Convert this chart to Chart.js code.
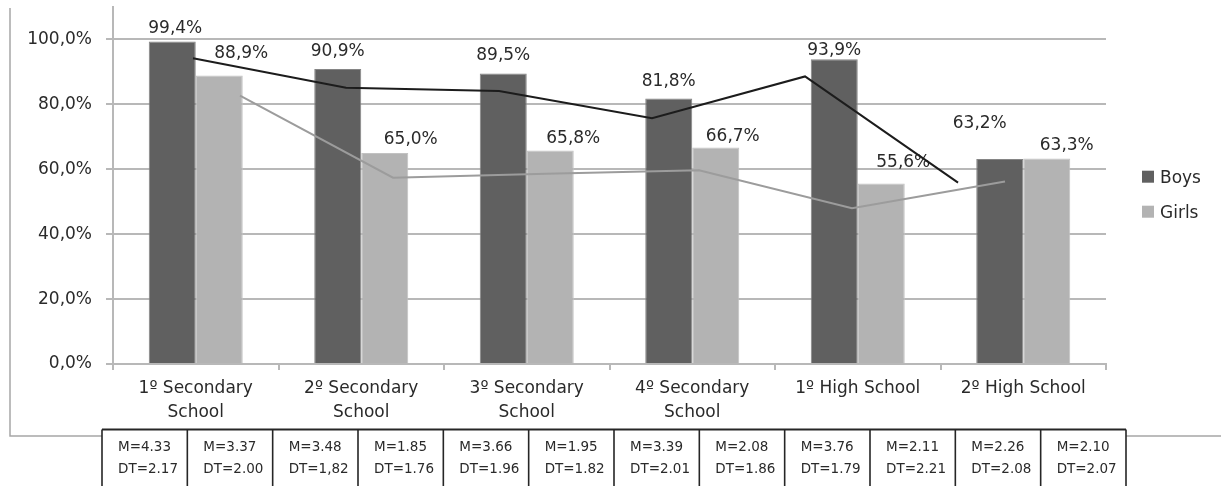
<!DOCTYPE html>
<html>
<head>
<meta charset="utf-8">
<script src="https://cdn.jsdelivr.net/npm/chart.js@4.4.1/dist/chart.umd.min.js"></script>
<style>
  html, body { margin: 0; padding: 0; background: #ffffff; }
  #wrap { width: 1221px; height: 486px; position: relative; }
  #wrap canvas { position: absolute; left: 0; top: 0; }
  #trend { pointer-events: none; }
</style>
</head>
<body>
<div id="wrap">
  <canvas id="bars" width="1221" height="486"></canvas>
  <canvas id="trend" width="1221" height="486"></canvas>
</div>
<script>
// ---- data ----
const categories = [
  ["1º Secondary", "School"],
  ["2º Secondary", "School"],
  ["3º Secondary", "School"],
  ["4º Secondary", "School"],
  "1º High School",
  "2º High School"
];
const seriesNames = ["Boys", "Girls"];
const boysPct  = [99.4, 90.9, 89.5, 81.8, 93.9, 63.2];
const girlsPct = [88.9, 65.0, 65.8, 66.7, 55.6, 63.3];
const boysTrend  = [94.2, 85.1, 84.1, 75.7, 88.6, 55.9];
const girlsTrend = [82.7, 57.4, 58.6, 59.7, 48.0, 56.2];
const yTickValues = [0, 20, 40, 60, 80, 100];
const boysM   = ["4.33", "3.48", "3.66", "3.39", "3.76", "2.26"];
const boysDT  = ["2.17", "1,82", "1.96", "2.01", "1.79", "2.08"];
const girlsM  = ["3.37", "1.85", "1.95", "2.08", "2.11", "2.10"];
const girlsDT = ["2.00", "1.76", "1.82", "1.86", "2.21", "2.07"];

// ---- look ----
const FONT = "'DejaVu Sans', sans-serif";
const TEXT = "#2a2a2a";
const GRID = "#b8b8b8";
const BOYS_COLOR = "#606060";
const GIRLS_COLOR = "#b3b3b3";
const Y_MAX = 110;

// plot-area box shared by both canvases (left, right, top, bottom paddings)
const PAD = { left: 113, right: 115, top: 7, bottom: 122 };

// value-label placement: [horizontal shift, rise of text centre above bar top]
const labelPlacement = [
  [[3, 15], [0, 19], [0, 19.5], [0, 19], [0, 10], [-20, 37]],
  [[22, 23.5], [26, 15], [23, 14], [17, 12.5], [22, 23], [20, 15]]
];

// trend-line axis range, and where the girls' trend sits relative to the boys'
const TREND_MIN = -0.523, TREND_MAX = 5.967, GIRLS_TREND_SHIFT = 0.307;

const fmtPct = v => v.toFixed(1).replace(".", ",") + "%";

// frame, value labels, legend and the statistics table under the axis
const decorations = {
  id: "decorations",
  afterDatasetsDraw(chart) {
    const ctx = chart.ctx;
    ctx.save();
    ctx.font = "17px " + FONT;
    ctx.fillStyle = TEXT;
    ctx.textAlign = "center";
    ctx.textBaseline = "alphabetic";
    chart.data.datasets.forEach((ds, di) => {
      chart.getDatasetMeta(di).data.forEach((bar, i) => {
        const [dx, rise] = labelPlacement[di][i];
        ctx.fillText(fmtPct(ds.data[i]), bar.x + dx, bar.y - rise + 6.2);
      });
    });
    ctx.restore();
  },
  afterDraw(chart) {
    const ctx = chart.ctx;
    const area = chart.chartArea;
    ctx.save();

    // outer frame pieces
    const tblLeft = area.left - 11;
    const tblRight = area.right + 20;
    const tblTop = 429.5;
    ctx.strokeStyle = "#a6a6a6";
    ctx.lineWidth = 1.5;
    ctx.beginPath();
    ctx.moveTo(10, 8);
    ctx.lineTo(10, 436);
    ctx.lineTo(tblLeft, 436);
    ctx.moveTo(tblRight, 436);
    ctx.lineTo(chart.width, 436);
    ctx.stroke();

    // legend
    ctx.font = "17px " + FONT;
    ctx.textAlign = "left";
    ctx.textBaseline = "alphabetic";
    const legendX = area.right + 36;
    const legendY = [176.7, 211.7];
    chart.data.datasets.forEach((ds, di) => {
      ctx.fillStyle = ds.backgroundColor;
      ctx.fillRect(legendX, legendY[di] - 6, 12, 12);
      ctx.fillStyle = TEXT;
      ctx.fillText(ds.label, legendX + 18, legendY[di] + 6.2);
    });

    // statistics table
    const nCols = categories.length * 2;
    const colW = (tblRight - tblLeft) / nCols;
    ctx.strokeStyle = "#262626";
    ctx.lineWidth = 2;
    ctx.beginPath();
    ctx.moveTo(tblLeft, tblTop);
    ctx.lineTo(tblRight, tblTop);
    ctx.stroke();
    ctx.lineWidth = 1.6;
    ctx.beginPath();
    for (let k = 0; k <= nCols; k++) {
      const x = tblLeft + k * colW;
      ctx.moveTo(x, tblTop);
      ctx.lineTo(x, chart.height + 2);
    }
    ctx.stroke();

    ctx.font = "13.5px " + FONT;
    ctx.fillStyle = TEXT;
    ctx.textAlign = "left";
    for (let c = 0; c < categories.length; c++) {
      const cells = [[boysM[c], boysDT[c]], [girlsM[c], girlsDT[c]]];
      cells.forEach((cell, j) => {
        const x = tblLeft + (c * 2 + j) * colW + 16;
        ctx.fillText("M=" + cell[0], x, 451);
        ctx.fillText("DT=" + cell[1], x, 472.6);
      });
    }
    ctx.restore();
  }
};

// ---- bar chart with axes, labels, legend and table ----
new Chart(document.getElementById("bars"), {
  type: "bar",
  data: {
    labels: categories,
    datasets: [
      { label: seriesNames[0], data: boysPct, backgroundColor: BOYS_COLOR, borderColor: "#858585", borderWidth: 1 },
      { label: seriesNames[1], data: girlsPct, backgroundColor: GIRLS_COLOR, borderColor: "#c2c2c2", borderWidth: 1 }
    ]
  },
  options: {
    responsive: false,
    animation: false,
    devicePixelRatio: 1,
    layout: { padding: { top: PAD.top, right: PAD.right, left: 0, bottom: 0 } },
    categoryPercentage: 0.568,
    barPercentage: 1.0,
    plugins: { legend: { display: false }, tooltip: { enabled: false } },
    scales: {
      x: {
        type: "category",
        offset: true,
        afterFit: s => { s.height = PAD.bottom; s.paddingLeft = 0; s.paddingRight = 0; },
        grid: { display: true, drawOnChartArea: false, drawTicks: true, tickLength: 6, color: GRID, lineWidth: 2, offset: true },
        border: { display: true, color: GRID, width: 2 },
        ticks: {
          color: TEXT, font: { family: FONT, size: 17, lineHeight: 1.43 },
          padding: 6, maxRotation: 0, autoSkip: false
        }
      },
      y: {
        min: 0, max: Y_MAX,
        afterFit: s => { s.width = PAD.left; s.paddingTop = 0; s.paddingBottom = 0; },
        afterBuildTicks: s => { s.ticks = yTickValues.map(v => ({ value: v })); s.min = 0; s.max = Y_MAX; },
        grid: { color: GRID, lineWidth: 2, tickLength: 7 },
        border: { display: true, color: GRID, width: 2 },
        ticks: {
          color: TEXT, font: { family: FONT, size: 17 }, padding: 14,
          callback: v => fmtPct(v)
        }
      }
    }
  },
  plugins: [decorations]
});

// ---- trend lines, drawn over the bars on the same plot box ----
const trendPoints = (vals, shift) => vals.map((v, i) => ({ x: i + shift, y: v }));

new Chart(document.getElementById("trend"), {
  type: "line",
  data: {
    datasets: [
      { label: "Boys trend", data: trendPoints(boysTrend, 0), borderColor: "#1c1c1c", borderWidth: 2 },
      { label: "Girls trend", data: trendPoints(girlsTrend, GIRLS_TREND_SHIFT), borderColor: "#9c9c9c", borderWidth: 2 }
    ]
  },
  options: {
    responsive: false,
    animation: false,
    devicePixelRatio: 1,
    layout: { padding: PAD },
    elements: { point: { radius: 0 }, line: { tension: 0, fill: false } },
    plugins: { legend: { display: false }, tooltip: { enabled: false } },
    scales: {
      x: {
        type: "linear", display: false, offset: false, bounds: "data",
        min: TREND_MIN, max: TREND_MAX,
        afterBuildTicks: s => { s.min = TREND_MIN; s.max = TREND_MAX; }
      },
      y: {
        type: "linear", display: false, offset: false,
        min: 0, max: Y_MAX,
        afterBuildTicks: s => { s.min = 0; s.max = Y_MAX; }
      }
    }
  }
});
</script>
</body>
</html>
